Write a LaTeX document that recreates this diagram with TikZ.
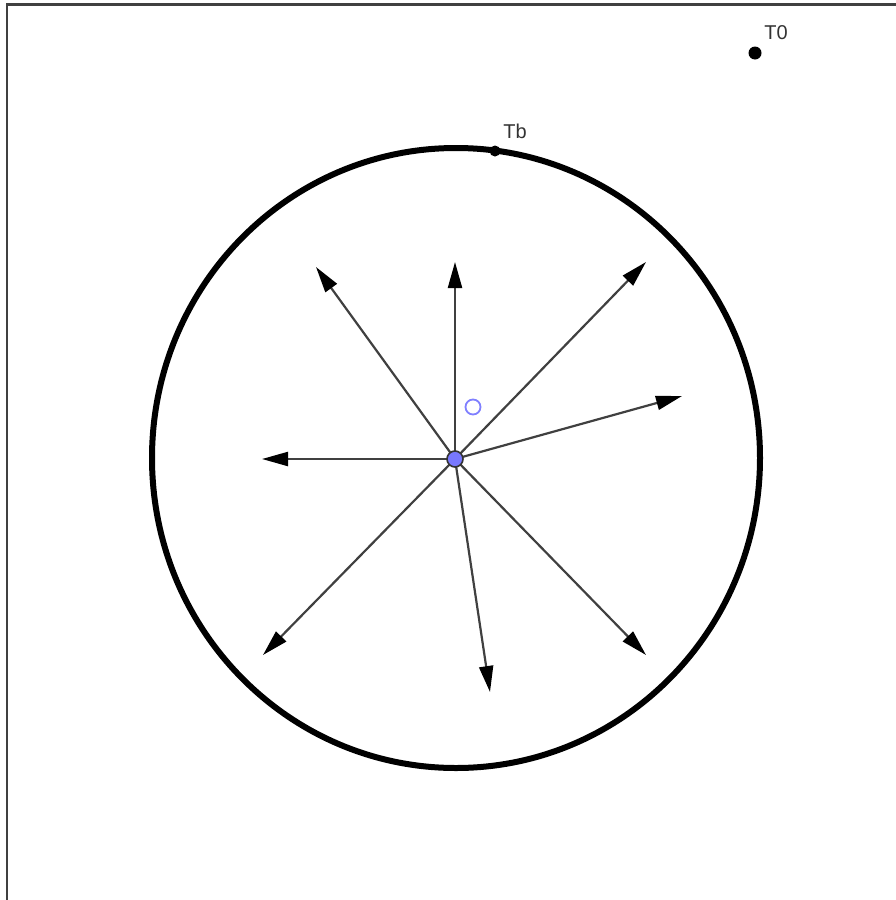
\documentclass[tikz,border=0pt]{standalone}
\usepackage{fontspec}
\setmainfont{Liberation Sans}
\usetikzlibrary{arrows.meta}
\begin{document}
\begin{tikzpicture}[x=1pt,y=-1pt,
  framel/.style={draw=black!75,line width=2.5pt},
  ray/.style={draw=black!75,line width=2.2pt,-{Triangle[length=26pt,width=14pt,color=black]}},
  lbl/.style={font=\fontsize{20pt}{20pt}\selectfont,text=black!80,inner sep=0pt}]
\useasboundingbox (0,0) rectangle (896,900);
\draw[framel] (7,900) -- (7,4.5) -- (896,4.5);
\draw[black,line width=6pt] (456,458) ellipse [x radius=304, y radius=310];
\coordinate (c) at (455,459);
\coordinate (e1) at (316,267);
\coordinate (e2) at (455,262);
\coordinate (e3) at (646,262);
\coordinate (e4) at (682,396);
\coordinate (e5) at (262,459);
\coordinate (e6) at (263,655);
\coordinate (e7) at (490,692);
\coordinate (e8) at (646,655);
\foreach \e in {e1,e2,e3,e4,e5,e6,e7,e8} \draw[ray] (c) -- (\e);
\node[circle,draw=blue!50,line width=1.8pt,minimum size=15pt,inner sep=0pt] (o) at (473,407) {};
\node[circle,fill={rgb,255:red,120;green,120;blue,255},draw=black!80,line width=1.6pt,minimum size=16pt,inner sep=0pt] (cdot) at (c) {};
\node[circle,fill=black,minimum size=11pt,inner sep=0pt] (tb) at (495,151) {};
\node[lbl] (tblbl) at (515,131) {Tb};
\node[circle,fill=black,minimum size=13pt,inner sep=0pt] (t0) at (755,53) {};
\node[lbl] (t0lbl) at (776,33) {T0};
\end{tikzpicture}
\end{document}
